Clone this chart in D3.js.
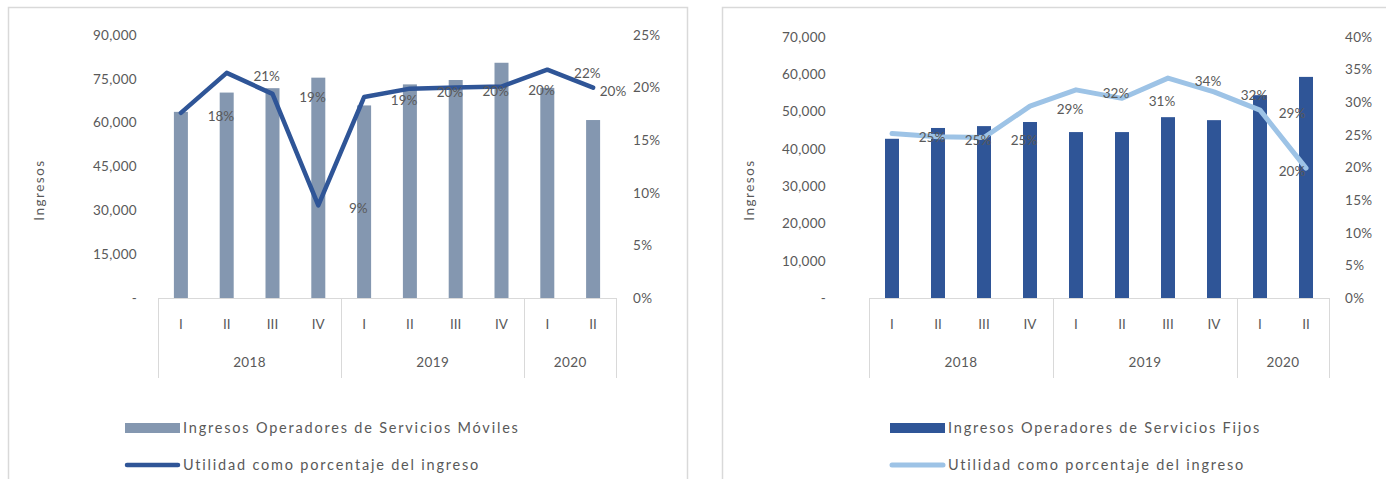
<!doctype html>
<html lang="es">
<head>
  <meta charset="utf-8">
  <style>
    body { margin: 0; background: #fff; }
    svg text { font-family: Lato, "Open Sans", sans-serif; fill: #595959; }
  </style>
</head>
<body>
  <script src="https://cdn.jsdelivr.net/npm/d3@7/dist/d3.min.js"></script>
  <div id="chart"></div>
  <script>
  // categorias (trimestres y años)
  var quarters = ["I", "II", "III", "IV", "I", "II", "III", "IV", "I", "II"];
  var years = ["2018", "2019", "2020"];
  var yearSpans = [4, 4, 2];

  // servicios moviles
  var movilIngresos = [63700, 70300, 71800, 75400, 65900, 73100, 74600, 80500, 71900, 60900];
  var movilUtilidad = [0.176, 0.214, 0.194, 0.088, 0.191, 0.199, 0.200, 0.201, 0.217, 0.200];
  var movilTicks = [0, 15000, 30000, 45000, 60000, 75000, 90000];
  var movilPctTicks = [0, 0.05, 0.10, 0.15, 0.20, 0.25];

  // servicios fijos
  var fijoIngresos = [42700, 45600, 46100, 47200, 44500, 44500, 48500, 47700, 54400, 59300];
  var fijoUtilidad = [0.252, 0.247, 0.246, 0.294, 0.319, 0.306, 0.337, 0.316, 0.288, 0.199];
  var fijoTicks = [0, 10000, 20000, 30000, 40000, 50000, 60000, 70000];
  var fijoPctTicks = [0, 0.05, 0.10, 0.15, 0.20, 0.25, 0.30, 0.35, 0.40];

  var width = 1386, height = 479;
  var svg = d3.select("#chart").append("svg")
      .attr("width", width)
      .attr("height", height);

  var fmtNum = function(v) { return v === 0 ? "-" : d3.format(",")(v); };
  var fmtPct = d3.format(".0%");

  function drawChart(opt) {
    var g = svg.append("g");

    // marco del grafico
    g.append("rect")
     .attr("x", opt.box[0] + 0.5).attr("y", opt.box[1] + 0.5)
     .attr("width", opt.box[2]).attr("height", opt.box[3])
     .attr("fill", "none").attr("stroke", "#d9d9d9").attr("stroke-width", 1.5);

    var idx = d3.range(quarters.length);
    var x = d3.scaleBand().domain(idx).range([opt.x0, opt.x1]);
    var y = d3.scaleLinear().domain([0, d3.max(opt.ticks)]).range([opt.yb, opt.yt]);
    var y2 = d3.scaleLinear().domain([0, d3.max(opt.pctTicks)]).range([opt.yb, opt.yt]);

    // ejes (solo etiquetas)
    var left = g.append("g")
       .attr("transform", "translate(" + opt.leftX + ",0)")
       .call(d3.axisLeft(y).tickValues(opt.ticks).tickFormat(fmtNum).tickSize(0).tickPadding(0));
    left.select(".domain").remove();
    var right = g.append("g")
       .attr("transform", "translate(" + opt.rightX + ",0)")
       .call(d3.axisRight(y2).tickValues(opt.pctTicks).tickFormat(fmtPct).tickSize(0).tickPadding(0));
    right.select(".domain").remove();
    g.selectAll(".tick text").attr("font-size", 13.5).attr("fill", "#595959")
     .attr("letter-spacing", 0.3)
     .style("font-family", "Lato, sans-serif");

    // titulo eje
    g.append("text")
     .attr("transform", "translate(" + opt.titleX + ",190) rotate(-90)")
     .attr("text-anchor", "middle")
     .attr("font-size", 13.5)
     .attr("letter-spacing", 1.5)
     .text("Ingresos");

    // barras
    var bw = 14;
    g.selectAll(".bar").data(opt.bars).enter().append("rect")
     .attr("class", "bar")
     .attr("x", function(d, i) { return x(i) + x.bandwidth() / 2 - bw / 2; })
     .attr("y", function(d) { return y(d); })
     .attr("width", bw)
     .attr("height", function(d) { return opt.yb - y(d); })
     .attr("fill", opt.barColor);

    // eje de categorias
    var axisBottom = opt.yb + 80;
    g.append("line")
     .attr("x1", opt.x0).attr("x2", opt.x1)
     .attr("y1", opt.yb + 0.5).attr("y2", opt.yb + 0.5)
     .attr("stroke", "#d9d9d9");
    var cum = [0];
    yearSpans.forEach(function(s, i) { cum.push(cum[i] + s); });
    g.selectAll(".sep").data(cum).enter().append("line")
     .attr("x1", function(c) { return Math.round(opt.x0 + c * x.step()) + 0.5; })
     .attr("x2", function(c) { return Math.round(opt.x0 + c * x.step()) + 0.5; })
     .attr("y1", opt.yb).attr("y2", axisBottom)
     .attr("stroke", "#d9d9d9");
    g.selectAll(".q").data(quarters).enter().append("text")
     .attr("x", function(d, i) { return x(i) + x.bandwidth() / 2; })
     .attr("y", opt.yb + 31)
     .attr("text-anchor", "middle")
     .attr("font-size", 13.5)
     .text(function(d) { return d; });
    g.selectAll(".yr").data(years).enter().append("text")
     .attr("x", function(d, i) { return opt.x0 + (cum[i] + cum[i + 1]) / 2 * x.step(); })
     .attr("y", opt.yb + 69)
     .attr("text-anchor", "middle")
     .attr("font-size", 13.5)
     .attr("letter-spacing", 0.4)
     .text(function(d) { return d; });

    // linea de utilidad
    var line = d3.line()
      .x(function(d, i) { return x(i) + x.bandwidth() / 2; })
      .y(function(d) { return y2(d); });
    g.append("path")
     .datum(opt.pct)
     .attr("d", line)
     .attr("fill", "none")
     .attr("stroke", opt.lineColor)
     .attr("stroke-width", opt.lineWidth)
     .attr("stroke-linejoin", "round")
     .attr("stroke-linecap", "round");

    // etiquetas de datos
    g.selectAll(".lbl").data(opt.pct).enter().append("text")
     .attr("x", function(d, i) { return Math.min(x(i) + x.bandwidth() / 2 + 40, opt.lblMax); })
     .attr("y", function(d) { return y2(d) + 8; })
     .attr("text-anchor", "middle")
     .attr("font-size", 13.5)
     .text(function(d) { return fmtPct(d); });

    // leyenda
    g.append("rect")
     .attr("x", opt.legX).attr("y", 423)
     .attr("width", 55).attr("height", 10)
     .attr("fill", opt.barColor);
    g.append("text")
     .attr("x", opt.legX + 58).attr("y", 433)
     .attr("font-size", 14.5)
     .attr("letter-spacing", 1.8)
     .text(opt.barName);
    g.append("line")
     .attr("x1", opt.legX + 2).attr("x2", opt.legX + 53)
     .attr("y1", 465).attr("y2", 465)
     .attr("stroke", opt.lineColor)
     .attr("stroke-width", opt.lineWidth)
     .attr("stroke-linecap", "round");
    g.append("text")
     .attr("x", opt.legX + 58).attr("y", 470)
     .attr("font-size", 14.5)
     .attr("letter-spacing", 1.8)
     .text("Utilidad como porcentaje del ingreso");
  }

  drawChart({
    box: [8, 7, 679, 490],
    x0: 158, x1: 616, yt: 35, yb: 298,
    leftX: 137, rightX: 633, titleX: 44, lblMax: 613,
    ticks: movilTicks, pctTicks: movilPctTicks,
    bars: movilIngresos, pct: movilUtilidad,
    barColor: "#8497b0", lineColor: "#2f5597", lineWidth: 4.5,
    legX: 125, barName: "Ingresos Operadores de Servicios Móviles"
  });

  drawChart({
    box: [722, 7, 700, 490],
    x0: 869, x1: 1329, yt: 37, yb: 298,
    leftX: 826, rightX: 1345, titleX: 754, lblMax: 1292,
    ticks: fijoTicks, pctTicks: fijoPctTicks,
    bars: fijoIngresos, pct: fijoUtilidad,
    barColor: "#2f5597", lineColor: "#9dc3e6", lineWidth: 5,
    legX: 890, barName: "Ingresos Operadores de Servicios Fijos"
  });
  </script>
</body>
</html>
